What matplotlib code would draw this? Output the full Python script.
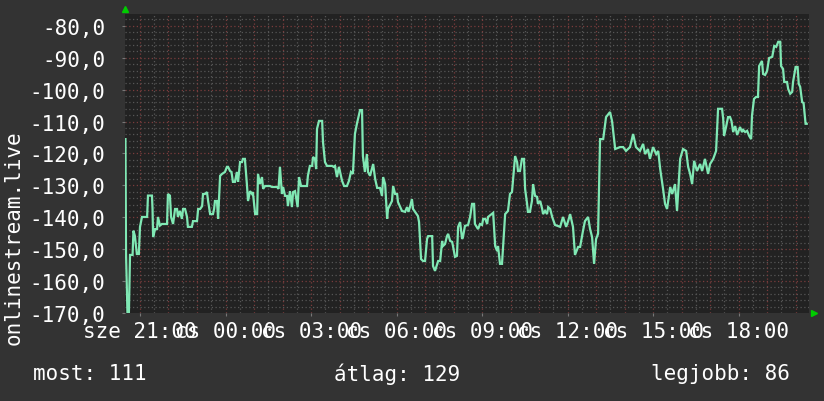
import numpy as np
import matplotlib
matplotlib.use("Agg")
import matplotlib.pyplot as plt

# hours after Wednesday 21:00, signal level (dBm) for onlinestream.live
hours = [-0.51, -0.49, -0.44, -0.39, -0.35, -0.26, -0.23, -0.18, -0.11, -0.04,
         0.0, 0.07, 0.25, 0.28, 0.42, 0.44, 0.46, 0.53, 0.60, 0.63,
         0.70, 0.77, 0.95, 0.98, 1.05, 1.09, 1.16, 1.23, 1.30, 1.33,
         1.40, 1.47, 1.51, 1.58, 1.65, 1.68, 1.82, 1.86, 2.00, 2.04,
         2.11, 2.18, 2.21, 2.28, 2.35, 2.39, 2.46, 2.56, 2.60, 2.63,
         2.70, 2.74, 2.81, 2.88, 2.98, 3.05, 3.09, 3.16, 3.21, 3.26,
         3.33, 3.40, 3.44, 3.51, 3.58, 3.61, 3.68, 3.75, 3.79, 3.86,
         3.93, 3.96, 4.04, 4.11, 4.14, 4.21, 4.28, 4.32, 4.39, 4.56,
         4.63, 4.81, 4.86, 4.91, 4.98, 5.02, 5.09, 5.16, 5.19, 5.26,
         5.33, 5.37, 5.44, 5.53, 5.58, 5.65, 5.86, 5.89, 5.96, 6.04,
         6.07, 6.14, 6.18, 6.21, 6.28, 6.39, 6.42, 6.49, 6.56, 6.74,
         6.79, 6.84, 6.91, 6.98, 7.09, 7.16, 7.26, 7.33, 7.40, 7.47,
         7.54, 7.61, 7.72, 7.79, 7.82, 7.89, 7.96, 8.00, 8.07, 8.18,
         8.25, 8.32, 8.42, 8.49, 8.53, 8.60, 8.67, 8.70, 8.84, 8.88,
         8.95, 9.02, 9.05, 9.19, 9.30, 9.37, 9.42, 9.47, 9.54, 9.58,
         9.65, 9.75, 9.79, 9.86, 9.93, 10.00, 10.07, 10.11, 10.25, 10.28,
         10.35, 10.46, 10.53, 10.60, 10.63, 10.70, 10.77, 10.81, 10.88, 10.95,
         10.98, 11.05, 11.12, 11.16, 11.23, 11.30, 11.33, 11.40, 11.51, 11.58,
         11.65, 11.72, 11.75, 11.86, 11.93, 12.00, 12.04, 12.11, 12.18, 12.21,
         12.39, 12.46, 12.53, 12.56, 12.63, 12.70, 12.74, 12.81, 12.91, 12.98,
         13.05, 13.09, 13.16, 13.23, 13.26, 13.33, 13.40, 13.47, 13.51, 13.58,
         13.61, 13.68, 13.75, 13.79, 13.86, 13.93, 13.96, 14.04, 14.11, 14.14,
         14.21, 14.28, 14.32, 14.39, 14.46, 14.56, 14.74, 14.84, 14.95, 15.02,
         15.09, 15.19, 15.26, 15.37, 15.44, 15.54, 15.61, 15.72, 15.79, 15.86,
         15.93, 16.00, 16.07, 16.14, 16.25, 16.35, 16.49, 16.56, 16.67, 16.84,
         16.95, 17.05, 17.19, 17.30, 17.40, 17.47, 17.54, 17.65, 17.72, 17.82,
         17.89, 18.00, 18.11, 18.18, 18.25, 18.35, 18.42, 18.49, 18.60, 18.67,
         18.77, 18.84, 18.95, 19.05, 19.16, 19.23, 19.30, 19.37, 19.44, 19.54,
         19.65, 19.72, 19.82, 19.93, 20.00, 20.11, 20.21, 20.28, 20.42, 20.46,
         20.49, 20.56, 20.63, 20.70, 20.75, 20.81, 20.88, 20.95, 21.05, 21.12,
         21.16, 21.23, 21.30, 21.37, 21.44, 21.47, 21.54, 21.61, 21.68, 21.72,
         21.82, 21.86, 21.93, 22.00, 22.07, 22.18, 22.25, 22.32, 22.39, 22.46,
         22.49, 22.56, 22.60, 22.70, 22.74, 22.81, 22.88, 22.91, 23.00, 23.07,
         23.11, 23.16, 23.23, 23.28, 23.35, 23.39]
signal = [-115.5, -151.5, -170.0, -170.0, -151.8, -151.8, -144.2, -145.8, -151.5, -151.5,
          -143.0, -139.9, -139.9, -133.2, -133.2, -137.4, -146.2, -143.7, -143.7, -139.9,
          -142.6, -142.1, -142.1, -132.7, -133.2, -139.9, -142.1, -137.4, -137.4, -139.9,
          -138.0, -140.5, -137.4, -137.4, -139.9, -143.0, -143.0, -141.2, -141.2, -137.4,
          -137.4, -136.5, -132.7, -132.7, -132.1, -134.9, -139.0, -139.0, -137.4, -134.9,
          -134.9, -140.5, -127.0, -126.4, -125.8, -124.2, -124.2, -125.5, -125.8, -128.9,
          -128.9, -125.8, -128.9, -122.7, -122.7, -121.7, -121.7, -129.6, -134.9, -131.8,
          -132.7, -132.1, -139.0, -139.0, -126.4, -129.6, -127.4, -131.1, -130.2, -130.2,
          -130.5, -130.5, -131.1, -124.2, -132.7, -130.5, -133.3, -133.3, -136.5, -131.8,
          -136.8, -132.1, -131.8, -136.8, -127.4, -130.2, -130.2, -127.0, -123.9, -123.9,
          -121.1, -121.7, -124.9, -112.3, -109.8, -109.8, -116.4, -122.7, -123.9, -123.9,
          -124.2, -123.9, -127.4, -124.2, -128.6, -130.2, -130.2, -128.6, -125.8, -126.4,
          -113.9, -110.7, -106.4, -106.4, -120.8, -125.8, -120.2, -125.8, -127.0, -123.3,
          -128.0, -130.8, -130.8, -133.3, -127.4, -129.6, -140.5, -137.4, -134.9, -130.2,
          -132.7, -132.7, -135.2, -138.0, -138.3, -136.8, -138.3, -136.8, -134.3, -137.4,
          -138.3, -139.6, -141.5, -153.1, -153.7, -153.7, -146.8, -145.9, -145.9, -155.3,
          -156.8, -153.7, -153.7, -147.4, -149.0, -148.4, -145.9, -145.2, -147.4, -147.7,
          -149.0, -152.4, -152.1, -143.0, -141.5, -146.8, -146.2, -142.7, -142.4, -139.9,
          -135.8, -135.8, -142.1, -143.7, -142.1, -142.4, -140.5, -140.5, -142.1, -139.9,
          -138.6, -149.0, -150.6, -149.0, -154.6, -154.6, -149.0, -139.0, -138.0, -132.7,
          -132.1, -128.0, -120.8, -122.7, -125.5, -125.5, -121.7, -121.7, -131.1, -135.8,
          -138.3, -138.3, -134.9, -129.6, -133.3, -133.6, -135.8, -134.9, -137.4, -139.0,
          -138.0, -139.0, -136.8, -137.4, -139.9, -142.4, -143.0, -139.9, -143.0, -141.2,
          -139.0, -143.0, -151.8, -149.3, -149.3, -144.3, -141.2, -139.9, -143.7, -146.2,
          -154.6, -146.8, -145.2, -115.5, -115.5, -108.6, -107.0, -109.8, -118.6, -118.0,
          -118.0, -119.2, -118.0, -113.9, -118.0, -118.6, -119.2, -117.0, -120.2, -118.6,
          -121.7, -118.0, -120.2, -119.2, -124.9, -131.1, -135.8, -137.4, -130.5, -132.7,
          -129.6, -138.0, -121.7, -118.6, -119.2, -124.2, -126.4, -129.6, -122.3, -125.5,
          -123.3, -125.5, -121.7, -126.4, -123.3, -121.7, -119.2, -106.0, -106.0, -109.2,
          -114.5, -111.7, -108.6, -108.6, -109.8, -113.3, -111.4, -114.2, -111.7, -113.3,
          -112.6, -113.3, -112.9, -114.5, -115.5, -108.2, -102.9, -102.3, -102.3, -92.6,
          -91.0, -95.1, -95.4, -94.1, -90.1, -89.7, -86.3, -86.6, -85.0, -85.0,
          -92.6, -93.5, -97.6, -97.6, -99.8, -101.3, -100.7, -97.6, -92.9, -92.9,
          -98.2, -99.1, -103.9, -104.2, -110.7, -110.7]

label_hours = [0, 3, 6, 9, 12, 15, 18, 21]
label_text = ["sze 21:00", "cs 00:00", "cs 03:00", "cs 06:00", "cs 09:00",
              "cs 12:00", "cs 15:00", "cs 18:00"]
y_ticks = np.arange(-170, -79, 10)
stats = ["most: 111", "átlag: 129", "legjobb: 86"]

BG = "#333333"
PLOT_BG = "#222222"
MINOR = "#565656"
MAJOR = "#7a3c3c"
LINE = "#80e8b4"
MONO = "DejaVu Sans Mono"

fig = plt.figure(figsize=(8.24, 4.02), dpi=100, facecolor=BG)
ax = fig.add_axes([0.1517, 0.2189, 0.8301, 0.7445], facecolor=PLOT_BG)
ax.set_xlim(-0.526, 23.47)
ax.set_ylim(-170, -76.2)

# grid: gray every 2 dB / 30 min, red every 10 dB / 1 h
for v in np.arange(-168, -76, 2):
    ax.axhline(v, color=MAJOR if v % 10 == 0 else MINOR, lw=0.9,
               ls=(0, (1, 2)), zorder=1)
for h in np.arange(0, 23.5, 0.5):
    ax.axvline(h, color=MAJOR if h % 1 == 0 else MINOR, lw=0.9,
               ls=(0, (1, 2)), zorder=1)

ax.plot(hours, signal, color=LINE, lw=1.6, zorder=3, solid_joinstyle="miter")

for s in ax.spines.values():
    s.set_visible(False)
ax.set_yticks(y_ticks)
ax.set_yticklabels([f"{v:.1f}".replace(".", ",") for v in y_ticks])
ax.set_xticks(label_hours)
ax.set_xticklabels(label_text)
ax.tick_params(axis="both", colors="#777777", length=2, labelcolor="white",
               labelsize=15)
ax.tick_params(axis="y", pad=12)
ax.tick_params(axis="x", pad=4)
for lab in ax.get_xticklabels() + ax.get_yticklabels():
    lab.set_fontfamily(MONO)

# rrdtool style axis arrows
ax.plot([0], [1.015], marker="^", color="#00cc00", ms=5, transform=ax.transAxes,
        clip_on=False)
ax.plot([1.008], [0.0], marker=">", color="#00cc00", ms=5, transform=ax.transAxes,
        clip_on=False)

fig.text(0.017, 0.409, "onlinestream.live", rotation=90, ha="center", va="center",
         color="white", fontsize=15, family=MONO)
fig.text(0.040, 0.070, stats[0], ha="left", va="center", color="white",
         fontsize=15, family=MONO)
fig.text(0.405, 0.070, stats[1], ha="left", va="center", color="white",
         fontsize=15, family=MONO)
fig.text(0.959, 0.070, stats[2], ha="right", va="center", color="white",
         fontsize=15, family=MONO)

fig.savefig("out.png", dpi=100, facecolor=BG)
